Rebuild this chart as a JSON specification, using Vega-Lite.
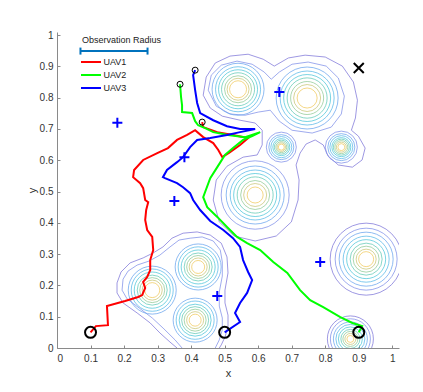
{
"$schema": "https://vega.github.io/schema/vega-lite/v6.json",
"width": 342, "height": 316,
"autosize": {"type": "none"},
"padding": {"left": 57, "top": 32, "right": 24, "bottom": 44},
"background": "white",
"config": {
  "view": {"stroke": null},
  "font": "Liberation Sans",
  "axis": {"grid": false, "domainColor": "#8a8a8a", "tickColor": "#8a8a8a", "tickSize": -3, "labelColor": "#333333", "labelFont": "Liberation Sans", "labelFontSize": 10, "titleFont": "Liberation Sans", "titleFontSize": 11, "titleFontWeight": "normal", "titleColor": "#333333"},
  "axisX": {"labelPadding": 8, "titlePadding": 4},
  "axisY": {"labelPadding": 7, "titlePadding": 2}
},
"datasets": {
  "contours": [
    {"cid":"top1","lev":1,"i":0,"x":0.436,"y":0.808},{"cid":"top1","lev":1,"i":1,"x":0.445,"y":0.866},{"cid":"top1","lev":1,"i":2,"x":0.472,"y":0.911},{"cid":"top1","lev":1,"i":3,"x":0.516,"y":0.933},{"cid":"top1","lev":1,"i":4,"x":0.570,"y":0.939},{"cid":"top1","lev":1,"i":5,"x":0.615,"y":0.923},{"cid":"top1","lev":1,"i":6,"x":0.648,"y":0.901},{"cid":"top1","lev":1,"i":7,"x":0.690,"y":0.927},{"cid":"top1","lev":1,"i":8,"x":0.740,"y":0.936},{"cid":"top1","lev":1,"i":9,"x":0.800,"y":0.930},{"cid":"top1","lev":1,"i":10,"x":0.851,"y":0.901},{"cid":"top1","lev":1,"i":11,"x":0.884,"y":0.850},{"cid":"top1","lev":1,"i":12,"x":0.896,"y":0.792},{"cid":"top1","lev":1,"i":13,"x":0.890,"y":0.735},{"cid":"top1","lev":1,"i":14,"x":0.878,"y":0.696},{"cid":"top1","lev":1,"i":15,"x":0.899,"y":0.677},{"cid":"top1","lev":1,"i":16,"x":0.919,"y":0.639},{"cid":"top1","lev":1,"i":17,"x":0.910,"y":0.601},{"cid":"top1","lev":1,"i":18,"x":0.881,"y":0.578},{"cid":"top1","lev":1,"i":19,"x":0.839,"y":0.585},{"cid":"top1","lev":1,"i":20,"x":0.809,"y":0.613},{"cid":"top1","lev":1,"i":21,"x":0.794,"y":0.649},{"cid":"top1","lev":1,"i":22,"x":0.770,"y":0.665},{"cid":"top1","lev":1,"i":23,"x":0.743,"y":0.652},{"cid":"top1","lev":1,"i":24,"x":0.725,"y":0.623},{"cid":"top1","lev":1,"i":25,"x":0.713,"y":0.585},{"cid":"top1","lev":1,"i":26,"x":0.722,"y":0.537},{"cid":"top1","lev":1,"i":27,"x":0.719,"y":0.473},{"cid":"top1","lev":1,"i":28,"x":0.699,"y":0.403},{"cid":"top1","lev":1,"i":29,"x":0.654,"y":0.358},{"cid":"top1","lev":1,"i":30,"x":0.591,"y":0.342},{"cid":"top1","lev":1,"i":31,"x":0.528,"y":0.358},{"cid":"top1","lev":1,"i":32,"x":0.484,"y":0.403},{"cid":"top1","lev":1,"i":33,"x":0.466,"y":0.473},{"cid":"top1","lev":1,"i":34,"x":0.475,"y":0.537},{"cid":"top1","lev":1,"i":35,"x":0.507,"y":0.581},{"cid":"top1","lev":1,"i":36,"x":0.555,"y":0.610},{"cid":"top1","lev":1,"i":37,"x":0.597,"y":0.617},{"cid":"top1","lev":1,"i":38,"x":0.612,"y":0.649},{"cid":"top1","lev":1,"i":39,"x":0.612,"y":0.696},{"cid":"top1","lev":1,"i":40,"x":0.591,"y":0.719},{"cid":"top1","lev":1,"i":41,"x":0.546,"y":0.728},{"cid":"top1","lev":1,"i":42,"x":0.493,"y":0.741},{"cid":"top1","lev":1,"i":43,"x":0.457,"y":0.767},{"cid":"top1","lev":1,"i":44,"x":0.436,"y":0.808},
    {"cid":"ab2","lev":2,"i":0,"x":0.451,"y":0.824},{"cid":"ab2","lev":2,"i":1,"x":0.460,"y":0.872},{"cid":"ab2","lev":2,"i":2,"x":0.490,"y":0.904},{"cid":"ab2","lev":2,"i":3,"x":0.537,"y":0.917},{"cid":"ab2","lev":2,"i":4,"x":0.582,"y":0.907},{"cid":"ab2","lev":2,"i":5,"x":0.618,"y":0.882},{"cid":"ab2","lev":2,"i":6,"x":0.639,"y":0.859},{"cid":"ab2","lev":2,"i":7,"x":0.663,"y":0.882},{"cid":"ab2","lev":2,"i":8,"x":0.701,"y":0.907},{"cid":"ab2","lev":2,"i":9,"x":0.749,"y":0.914},{"cid":"ab2","lev":2,"i":10,"x":0.803,"y":0.901},{"cid":"ab2","lev":2,"i":11,"x":0.839,"y":0.863},{"cid":"ab2","lev":2,"i":12,"x":0.857,"y":0.805},{"cid":"ab2","lev":2,"i":13,"x":0.848,"y":0.748},{"cid":"ab2","lev":2,"i":14,"x":0.818,"y":0.706},{"cid":"ab2","lev":2,"i":15,"x":0.761,"y":0.687},{"cid":"ab2","lev":2,"i":16,"x":0.701,"y":0.696},{"cid":"ab2","lev":2,"i":17,"x":0.663,"y":0.725},{"cid":"ab2","lev":2,"i":18,"x":0.636,"y":0.760},{"cid":"ab2","lev":2,"i":19,"x":0.600,"y":0.754},{"cid":"ab2","lev":2,"i":20,"x":0.561,"y":0.744},{"cid":"ab2","lev":2,"i":21,"x":0.516,"y":0.748},{"cid":"ab2","lev":2,"i":22,"x":0.475,"y":0.773},{"cid":"ab2","lev":2,"i":23,"x":0.451,"y":0.824},
    {"cid":"bl1","lev":1,"i":0,"x":0.358,"y":0.000},{"cid":"bl1","lev":1,"i":1,"x":0.337,"y":0.019},{"cid":"bl1","lev":1,"i":2,"x":0.307,"y":0.048},{"cid":"bl1","lev":1,"i":3,"x":0.278,"y":0.080},{"cid":"bl1","lev":1,"i":4,"x":0.239,"y":0.112},{"cid":"bl1","lev":1,"i":5,"x":0.197,"y":0.144},{"cid":"bl1","lev":1,"i":6,"x":0.179,"y":0.176},{"cid":"bl1","lev":1,"i":7,"x":0.179,"y":0.208},{"cid":"bl1","lev":1,"i":8,"x":0.191,"y":0.243},{"cid":"bl1","lev":1,"i":9,"x":0.218,"y":0.272},{"cid":"bl1","lev":1,"i":10,"x":0.257,"y":0.288},{"cid":"bl1","lev":1,"i":11,"x":0.287,"y":0.304},{"cid":"bl1","lev":1,"i":12,"x":0.316,"y":0.323},{"cid":"bl1","lev":1,"i":13,"x":0.343,"y":0.351},{"cid":"bl1","lev":1,"i":14,"x":0.376,"y":0.367},{"cid":"bl1","lev":1,"i":15,"x":0.418,"y":0.371},{"cid":"bl1","lev":1,"i":16,"x":0.457,"y":0.361},{"cid":"bl1","lev":1,"i":17,"x":0.490,"y":0.335},{"cid":"bl1","lev":1,"i":18,"x":0.507,"y":0.291},{"cid":"bl1","lev":1,"i":19,"x":0.510,"y":0.240},{"cid":"bl1","lev":1,"i":20,"x":0.501,"y":0.185},{"cid":"bl1","lev":1,"i":21,"x":0.501,"y":0.144},{"cid":"bl1","lev":1,"i":22,"x":0.510,"y":0.105},{"cid":"bl1","lev":1,"i":23,"x":0.510,"y":0.067},{"cid":"bl1","lev":1,"i":24,"x":0.501,"y":0.035},{"cid":"bl1","lev":1,"i":25,"x":0.490,"y":0.010},{"cid":"bl1","lev":1,"i":26,"x":0.484,"y":0.000},
    {"cid":"bl2","lev":2,"i":0,"x":0.373,"y":0.000},{"cid":"bl2","lev":2,"i":1,"x":0.352,"y":0.026},{"cid":"bl2","lev":2,"i":2,"x":0.319,"y":0.061},{"cid":"bl2","lev":2,"i":3,"x":0.284,"y":0.096},{"cid":"bl2","lev":2,"i":4,"x":0.245,"y":0.128},{"cid":"bl2","lev":2,"i":5,"x":0.209,"y":0.157},{"cid":"bl2","lev":2,"i":6,"x":0.194,"y":0.185},{"cid":"bl2","lev":2,"i":7,"x":0.197,"y":0.220},{"cid":"bl2","lev":2,"i":8,"x":0.212,"y":0.246},{"cid":"bl2","lev":2,"i":9,"x":0.239,"y":0.265},{"cid":"bl2","lev":2,"i":10,"x":0.275,"y":0.278},{"cid":"bl2","lev":2,"i":11,"x":0.307,"y":0.297},{"cid":"bl2","lev":2,"i":12,"x":0.337,"y":0.323},{"cid":"bl2","lev":2,"i":13,"x":0.364,"y":0.345},{"cid":"bl2","lev":2,"i":14,"x":0.397,"y":0.351},{"cid":"bl2","lev":2,"i":15,"x":0.433,"y":0.355},{"cid":"bl2","lev":2,"i":16,"x":0.466,"y":0.342},{"cid":"bl2","lev":2,"i":17,"x":0.487,"y":0.313},{"cid":"bl2","lev":2,"i":18,"x":0.493,"y":0.275},{"cid":"bl2","lev":2,"i":19,"x":0.493,"y":0.230},{"cid":"bl2","lev":2,"i":20,"x":0.484,"y":0.179},{"cid":"bl2","lev":2,"i":21,"x":0.484,"y":0.134},{"cid":"bl2","lev":2,"i":22,"x":0.493,"y":0.096},{"cid":"bl2","lev":2,"i":23,"x":0.493,"y":0.058},{"cid":"bl2","lev":2,"i":24,"x":0.484,"y":0.026},{"cid":"bl2","lev":2,"i":25,"x":0.472,"y":0.000}
  ],
  "rings": [
    {"x":0.540,"y":0.827,"lev":3,"r":0.0776},{"x":0.540,"y":0.827,"lev":4,"r":0.0672},{"x":0.540,"y":0.827,"lev":5,"r":0.0582},{"x":0.540,"y":0.827,"lev":6,"r":0.0493},{"x":0.540,"y":0.827,"lev":7,"r":0.0403},{"x":0.540,"y":0.827,"lev":8,"r":0.0328},{"x":0.540,"y":0.827,"lev":9,"r":0.0254},
    {"x":0.746,"y":0.799,"lev":3,"r":0.0925},{"x":0.746,"y":0.799,"lev":4,"r":0.0806},{"x":0.746,"y":0.799,"lev":5,"r":0.0701},{"x":0.746,"y":0.799,"lev":6,"r":0.0597},{"x":0.746,"y":0.799,"lev":7,"r":0.0493},{"x":0.746,"y":0.799,"lev":8,"r":0.0403},{"x":0.746,"y":0.799,"lev":9,"r":0.0299},
    {"x":0.669,"y":0.642,"lev":2,"r":0.0448},{"x":0.669,"y":0.642,"lev":3,"r":0.0373},{"x":0.669,"y":0.642,"lev":4,"r":0.0313},{"x":0.669,"y":0.642,"lev":5,"r":0.0254},{"x":0.669,"y":0.642,"lev":6,"r":0.0209},{"x":0.669,"y":0.642,"lev":7,"r":0.0164},{"x":0.669,"y":0.642,"lev":8,"r":0.0125},{"x":0.669,"y":0.642,"lev":9,"r":0.0090},
    {"x":0.848,"y":0.642,"lev":2,"r":0.0478},{"x":0.848,"y":0.642,"lev":3,"r":0.0403},{"x":0.848,"y":0.642,"lev":4,"r":0.0343},{"x":0.848,"y":0.642,"lev":5,"r":0.0284},{"x":0.848,"y":0.642,"lev":6,"r":0.0239},{"x":0.848,"y":0.642,"lev":7,"r":0.0194},{"x":0.848,"y":0.642,"lev":8,"r":0.0149},{"x":0.848,"y":0.642,"lev":9,"r":0.0104},
    {"x":0.591,"y":0.489,"lev":2,"r":0.1015},{"x":0.591,"y":0.489,"lev":3,"r":0.0866},{"x":0.591,"y":0.489,"lev":4,"r":0.0746},{"x":0.591,"y":0.489,"lev":5,"r":0.0642},{"x":0.591,"y":0.489,"lev":6,"r":0.0537},{"x":0.591,"y":0.489,"lev":7,"r":0.0433},{"x":0.591,"y":0.489,"lev":8,"r":0.0343},{"x":0.591,"y":0.489,"lev":9,"r":0.0239},
    {"x":0.922,"y":0.284,"lev":1,"r":0.1075},{"x":0.922,"y":0.284,"lev":2,"r":0.0925},{"x":0.922,"y":0.284,"lev":3,"r":0.0806},{"x":0.922,"y":0.284,"lev":4,"r":0.0687},{"x":0.922,"y":0.284,"lev":5,"r":0.0582},{"x":0.922,"y":0.284,"lev":6,"r":0.0478},{"x":0.922,"y":0.284,"lev":7,"r":0.0388},{"x":0.922,"y":0.284,"lev":8,"r":0.0299},{"x":0.922,"y":0.284,"lev":9,"r":0.0224},
    {"x":0.875,"y":0.029,"lev":1,"r":0.0687},{"x":0.875,"y":0.029,"lev":2,"r":0.0597},{"x":0.875,"y":0.029,"lev":3,"r":0.0507},{"x":0.875,"y":0.029,"lev":4,"r":0.0433},{"x":0.875,"y":0.029,"lev":5,"r":0.0358},{"x":0.875,"y":0.029,"lev":6,"r":0.0284},{"x":0.875,"y":0.029,"lev":7,"r":0.0224},{"x":0.875,"y":0.029,"lev":8,"r":0.0164},{"x":0.875,"y":0.029,"lev":9,"r":0.0104},
    {"x":0.284,"y":0.185,"lev":3,"r":0.0716},{"x":0.284,"y":0.185,"lev":4,"r":0.0627},{"x":0.284,"y":0.185,"lev":5,"r":0.0537},{"x":0.284,"y":0.185,"lev":6,"r":0.0448},{"x":0.284,"y":0.185,"lev":7,"r":0.0373},{"x":0.284,"y":0.185,"lev":8,"r":0.0299},{"x":0.284,"y":0.185,"lev":9,"r":0.0224},
    {"x":0.421,"y":0.259,"lev":3,"r":0.0687},{"x":0.421,"y":0.259,"lev":4,"r":0.0597},{"x":0.421,"y":0.259,"lev":5,"r":0.0507},{"x":0.421,"y":0.259,"lev":6,"r":0.0418},{"x":0.421,"y":0.259,"lev":7,"r":0.0343},{"x":0.421,"y":0.259,"lev":8,"r":0.0269},{"x":0.421,"y":0.259,"lev":9,"r":0.0194},
    {"x":0.412,"y":0.089,"lev":3,"r":0.0657},{"x":0.412,"y":0.089,"lev":4,"r":0.0567},{"x":0.412,"y":0.089,"lev":5,"r":0.0478},{"x":0.412,"y":0.089,"lev":6,"r":0.0403},{"x":0.412,"y":0.089,"lev":7,"r":0.0328},{"x":0.412,"y":0.089,"lev":8,"r":0.0254},{"x":0.412,"y":0.089,"lev":9,"r":0.0179}
  ],
  "paths": [
    {"u":"UAV1","i":0,"x":0.1,"y":0.05},{"u":"UAV1","i":1,"x":0.116,"y":0.070},{"u":"UAV1","i":2,"x":0.152,"y":0.073},{"u":"UAV1","i":3,"x":0.149,"y":0.134},{"u":"UAV1","i":4,"x":0.203,"y":0.150},{"u":"UAV1","i":5,"x":0.242,"y":0.163},{"u":"UAV1","i":6,"x":0.254,"y":0.169},{"u":"UAV1","i":7,"x":0.263,"y":0.192},{"u":"UAV1","i":8,"x":0.257,"y":0.211},{"u":"UAV1","i":9,"x":0.269,"y":0.227},{"u":"UAV1","i":10,"x":0.278,"y":0.249},{"u":"UAV1","i":11,"x":0.278,"y":0.281},{"u":"UAV1","i":12,"x":0.287,"y":0.313},{"u":"UAV1","i":13,"x":0.284,"y":0.355},{"u":"UAV1","i":14,"x":0.269,"y":0.377},{"u":"UAV1","i":15,"x":0.263,"y":0.409},{"u":"UAV1","i":16,"x":0.266,"y":0.441},{"u":"UAV1","i":17,"x":0.272,"y":0.466},{"u":"UAV1","i":18,"x":0.263,"y":0.473},{"u":"UAV1","i":19,"x":0.257,"y":0.511},{"u":"UAV1","i":20,"x":0.248,"y":0.527},{"u":"UAV1","i":21,"x":0.227,"y":0.546},{"u":"UAV1","i":22,"x":0.230,"y":0.569},{"u":"UAV1","i":23,"x":0.257,"y":0.601},{"u":"UAV1","i":24,"x":0.299,"y":0.623},{"u":"UAV1","i":25,"x":0.331,"y":0.639},{"u":"UAV1","i":26,"x":0.358,"y":0.665},{"u":"UAV1","i":27,"x":0.388,"y":0.681},{"u":"UAV1","i":28,"x":0.412,"y":0.696},{"u":"UAV1","i":29,"x":0.436,"y":0.674},{"u":"UAV1","i":30,"x":0.466,"y":0.655},{"u":"UAV1","i":31,"x":0.481,"y":0.633},{"u":"UAV1","i":32,"x":0.493,"y":0.610},{"u":"UAV1","i":33,"x":0.516,"y":0.626},{"u":"UAV1","i":34,"x":0.546,"y":0.649},{"u":"UAV1","i":35,"x":0.570,"y":0.671},{"u":"UAV1","i":36,"x":0.525,"y":0.681},{"u":"UAV1","i":37,"x":0.478,"y":0.690},{"u":"UAV1","i":38,"x":0.436,"y":0.706},{"u":"UAV1","i":39,"x":0.433,"y":0.722},
    {"u":"UAV2","i":0,"x":0.9,"y":0.05},{"u":"UAV2","i":1,"x":0.910,"y":0.070},{"u":"UAV2","i":2,"x":0.881,"y":0.080},{"u":"UAV2","i":3,"x":0.845,"y":0.099},{"u":"UAV2","i":4,"x":0.794,"y":0.131},{"u":"UAV2","i":5,"x":0.755,"y":0.153},{"u":"UAV2","i":6,"x":0.725,"y":0.185},{"u":"UAV2","i":7,"x":0.687,"y":0.240},{"u":"UAV2","i":8,"x":0.645,"y":0.275},{"u":"UAV2","i":9,"x":0.606,"y":0.313},{"u":"UAV2","i":10,"x":0.567,"y":0.335},{"u":"UAV2","i":11,"x":0.537,"y":0.355},{"u":"UAV2","i":12,"x":0.507,"y":0.387},{"u":"UAV2","i":13,"x":0.478,"y":0.419},{"u":"UAV2","i":14,"x":0.448,"y":0.450},{"u":"UAV2","i":15,"x":0.436,"y":0.482},{"u":"UAV2","i":16,"x":0.457,"y":0.543},{"u":"UAV2","i":17,"x":0.478,"y":0.578},{"u":"UAV2","i":18,"x":0.501,"y":0.617},{"u":"UAV2","i":19,"x":0.525,"y":0.639},{"u":"UAV2","i":20,"x":0.555,"y":0.665},{"u":"UAV2","i":21,"x":0.582,"y":0.677},{"u":"UAV2","i":22,"x":0.606,"y":0.690},{"u":"UAV2","i":23,"x":0.561,"y":0.674},{"u":"UAV2","i":24,"x":0.510,"y":0.681},{"u":"UAV2","i":25,"x":0.466,"y":0.690},{"u":"UAV2","i":26,"x":0.442,"y":0.703},{"u":"UAV2","i":27,"x":0.421,"y":0.712},{"u":"UAV2","i":28,"x":0.412,"y":0.725},{"u":"UAV2","i":29,"x":0.403,"y":0.751},{"u":"UAV2","i":30,"x":0.373,"y":0.754},{"u":"UAV2","i":31,"x":0.373,"y":0.776},{"u":"UAV2","i":32,"x":0.370,"y":0.802},{"u":"UAV2","i":33,"x":0.367,"y":0.843},
    {"u":"UAV3","i":0,"x":0.5,"y":0.05},{"u":"UAV3","i":1,"x":0.546,"y":0.083},{"u":"UAV3","i":2,"x":0.531,"y":0.112},{"u":"UAV3","i":3,"x":0.546,"y":0.144},{"u":"UAV3","i":4,"x":0.567,"y":0.176},{"u":"UAV3","i":5,"x":0.582,"y":0.217},{"u":"UAV3","i":6,"x":0.570,"y":0.243},{"u":"UAV3","i":7,"x":0.555,"y":0.281},{"u":"UAV3","i":8,"x":0.546,"y":0.323},{"u":"UAV3","i":9,"x":0.525,"y":0.351},{"u":"UAV3","i":10,"x":0.496,"y":0.377},{"u":"UAV3","i":11,"x":0.457,"y":0.406},{"u":"UAV3","i":12,"x":0.427,"y":0.441},{"u":"UAV3","i":13,"x":0.406,"y":0.473},{"u":"UAV3","i":14,"x":0.397,"y":0.495},{"u":"UAV3","i":15,"x":0.376,"y":0.514},{"u":"UAV3","i":16,"x":0.358,"y":0.527},{"u":"UAV3","i":17,"x":0.322,"y":0.543},{"u":"UAV3","i":18,"x":0.316,"y":0.546},{"u":"UAV3","i":19,"x":0.328,"y":0.569},{"u":"UAV3","i":20,"x":0.358,"y":0.594},{"u":"UAV3","i":21,"x":0.376,"y":0.610},{"u":"UAV3","i":22,"x":0.397,"y":0.642},{"u":"UAV3","i":23,"x":0.418,"y":0.665},{"u":"UAV3","i":24,"x":0.457,"y":0.671},{"u":"UAV3","i":25,"x":0.507,"y":0.681},{"u":"UAV3","i":26,"x":0.546,"y":0.690},{"u":"UAV3","i":27,"x":0.591,"y":0.700},{"u":"UAV3","i":28,"x":0.546,"y":0.700},{"u":"UAV3","i":29,"x":0.507,"y":0.709},{"u":"UAV3","i":30,"x":0.466,"y":0.728},{"u":"UAV3","i":31,"x":0.427,"y":0.751},{"u":"UAV3","i":32,"x":0.418,"y":0.783},{"u":"UAV3","i":33,"x":0.412,"y":0.824},{"u":"UAV3","i":34,"x":0.406,"y":0.872},{"u":"UAV3","i":35,"x":0.412,"y":0.888}
  ],
  "targets": [{"x":0.18,"y":0.72},{"x":0.38,"y":0.61},{"x":0.35,"y":0.47},{"x":0.478,"y":0.166},{"x":0.663,"y":0.818},{"x":0.785,"y":0.275}],
  "goal": [{"x":0.9,"y":0.895}],
  "starts": [{"x":0.1,"y":0.05},{"x":0.5,"y":0.05},{"x":0.9,"y":0.05}],
  "ends": [{"x":0.433,"y":0.722},{"x":0.367,"y":0.843},{"x":0.412,"y":0.888}],
  "radius": [{"x":0.07,"x2":0.27,"y":0.949}],
  "radiusEnds": [{"x":0.07,"y":0.949},{"x":0.27,"y":0.949}]
},
"encoding": {
  "x": {"field":"x","type":"quantitative","scale":{"domain":[0,1.02],"nice":false,"zero":false},"axis":{"values":[0,0.1,0.2,0.3,0.4,0.5,0.6,0.7,0.8,0.9,1],"format":"~g","title":"x"}},
  "y": {"field":"y","type":"quantitative","scale":{"domain":[0,1.01],"nice":false,"zero":false},"axis":{"values":[0,0.1,0.2,0.3,0.4,0.5,0.6,0.7,0.8,0.9,1],"format":"~g","title":"y"}}
},
"layer": [
  {"data":{"name":"contours"},"mark":{"type":"line","strokeWidth":0.75,"clip":true},
   "encoding":{"detail":{"field":"cid"},"order":{"field":"i","type":"quantitative"},
     "stroke":{"field":"lev","type":"ordinal","scale":{"domain":[1,2,3,4,5,6,7,8,9],"range":["#7d76d8","#7f8fe8","#6aa4ee","#58b8e8","#4cc5d8","#62cab6","#90ca96","#c8c677","#f0c95e"]},"legend":null}}},
  {"data":{"name":"rings"},"mark":{"type":"point","shape":"circle","filled":false,"strokeWidth":0.75,"opacity":1,"clip":true},
   "encoding":{"size":{"field":"r","type":"quantitative","scale":{"type":"pow","exponent":2,"domain":[0,0.1],"range":[0,4489]},"legend":null},
     "stroke":{"field":"lev","type":"ordinal","legend":null}}},
  {"data":{"name":"paths"},"mark":{"type":"line","strokeWidth":2},
   "encoding":{"order":{"field":"i","type":"quantitative"},
     "color":{"field":"u","type":"nominal","scale":{"domain":["UAV1","UAV2","UAV3"],"range":["#ff0000","#00ff00","#0000ff"]},
       "legend":{"title":"Observation Radius","orient":"none","legendX":25,"legendY":4,"padding":0,"symbolType":"M-1.4,0H2.6","symbolSize":100,"symbolStrokeWidth":2,"labelOffset":9.5,"titlePadding":11,"rowPadding":2,"labelFontSize":9,"titleFontSize":9,"titleFontWeight":"normal","titleColor":"#222222","labelColor":"#222222","labelFont":"Liberation Sans","titleFont":"Liberation Sans"}}}},
  {"data":{"name":"radius"},"mark":{"type":"rule","color":"#0072BD","strokeWidth":2},"encoding":{"x2":{"field":"x2"}}},
  {"data":{"name":"radiusEnds"},"mark":{"type":"tick","orient":"vertical","color":"#0072BD","size":7,"thickness":2,"opacity":1},"encoding":{}},
  {"data":{"name":"targets"},"mark":{"type":"point","shape":"M-1,0H1M0,-1V1","size":100,"filled":false,"stroke":"#0000ff","strokeWidth":2,"opacity":1},"encoding":{}},
  {"data":{"name":"goal"},"mark":{"type":"point","shape":"M-1,-1L1,1M1,-1L-1,1","size":100,"filled":false,"stroke":"#000000","strokeWidth":2,"opacity":1},"encoding":{}},
  {"data":{"name":"starts"},"mark":{"type":"point","shape":"circle","size":121,"filled":false,"stroke":"#000000","strokeWidth":2,"opacity":1},"encoding":{}},
  {"data":{"name":"ends"},"mark":{"type":"point","shape":"circle","size":36,"filled":false,"stroke":"#000000","strokeWidth":1,"opacity":1},"encoding":{}}
]
}
